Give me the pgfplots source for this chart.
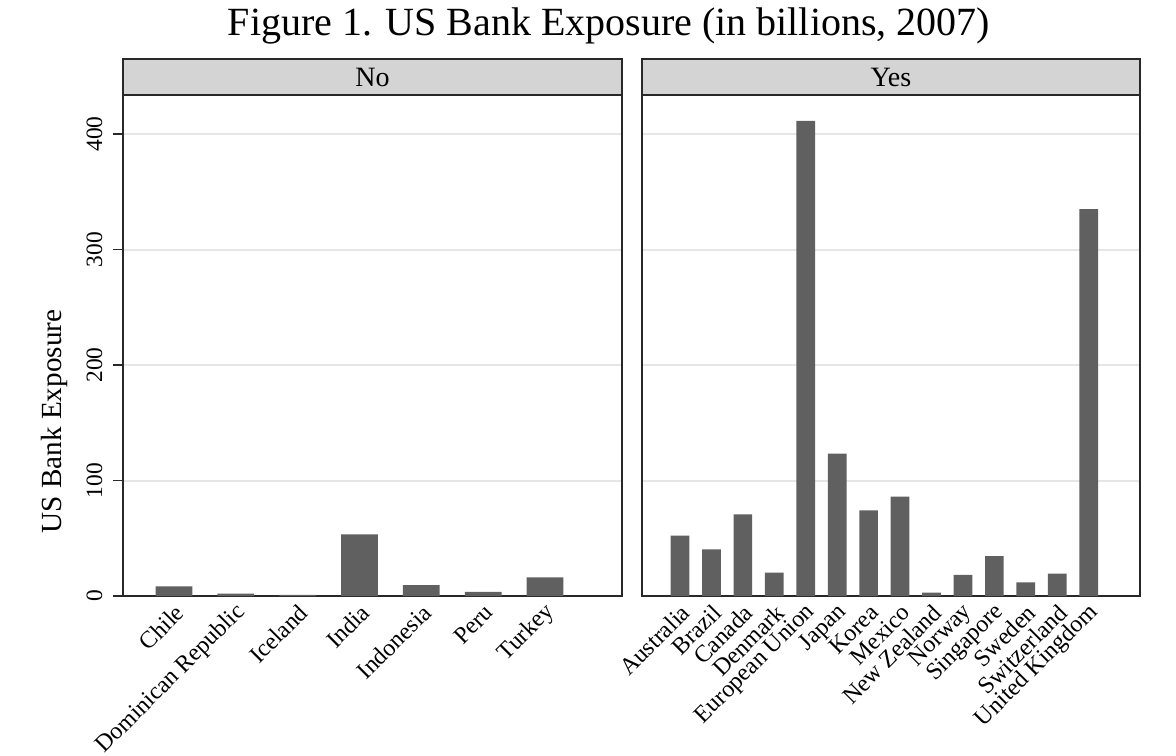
\documentclass[border=0pt]{standalone}
\usepackage{fontspec}
\setmainfont{Liberation Serif}
\usepackage{pgfplots}
\pgfplotsset{compat=1.18}
\definecolor{barc}{RGB}{96,96,96}
\definecolor{gridc}{RGB}{230,230,230}
\definecolor{hdrc}{RGB}{212,212,212}
\definecolor{framec}{RGB}{40,40,40}
\pgfplotsset{panel/.style={
  scale only axis, width=249.2pt, height=250.35pt,
  ymin=0, ymax=433.5, ytick={0,100,200,300,400},
  ymajorgrids, grid style={gridc, line width=1pt},
  axis line style={framec, line width=0.9pt},
  xtick style={draw=none},
  ytick style={framec, line width=0.8pt},
  tick align=outside, major tick length=5pt,
  xticklabel style={font=\fontsize{12}{14}\selectfont, rotate=45, anchor=east, inner sep=1pt, xshift=2.2pt, yshift=-3pt},
  yticklabel style={font=\fontsize{11.7}{13}\selectfont, rotate=90, anchor=south},
  yticklabel shift=2pt,
  /pgf/number format/assume math mode=true,
  clip=false,
}}
\begin{document}
\begin{tikzpicture}
\useasboundingbox (0,0) rectangle (588pt,-377.5pt);
\node[font=\fontsize{20}{24}\selectfont, anchor=base] at (304.5pt,-17.5pt) {Figure 1. US Bank Exposure (in billions, 2007)};
\begin{axis}[panel, at={(61.65pt,-298pt)}, anchor=south west,
  xmin=0.18, xmax=8.24, xtick={1,...,7},
  xticklabels={Chile,Dominican Republic,Iceland,India,Indonesia,Peru,Turkey},
  ytick pos=left,
  ylabel={US Bank Exposure},
  ylabel style={font=\fontsize{14.6}{16}\selectfont, at={(axis description cs:-0.139,0.3485)}, anchor=center},
  ]
\addplot[ybar, bar width=18.35pt, fill=barc, draw=none] coordinates {
(1,8.4) (2,2.0) (3,0.9) (4,53.4) (5,9.5) (6,3.5) (7,16.2)};
\draw[framec, line width=0.9pt, fill=hdrc] (rel axis cs:0,1) rectangle ([yshift=18.15pt]rel axis cs:1,1);
\node[font=\fontsize{14}{16}\selectfont] at ([yshift=9.07pt]rel axis cs:0.5,1) {No};
\end{axis}
\begin{axis}[panel, at={(320.85pt,-298pt)}, anchor=south west,
  xmin=-0.217, xmax=15.636, xtick={1,...,14},
  xticklabels={Australia,Brazil,Canada,Denmark,European Union,Japan,Korea,Mexico,New Zealand,Norway,Singapore,Sweden,Switzerland,United Kingdom},
  yticklabels={}, ytick style={draw=none},
  ]
\addplot[ybar, bar width=9.35pt, fill=barc, draw=none] coordinates {
(1,52.2) (2,40.4) (3,70.7) (4,20.3) (5,411.3) (6,123.2) (7,74.2) (8,86.0) (9,2.9) (10,18.2) (11,34.6) (12,11.8) (13,19.3) (14,335)};
\draw[framec, line width=0.9pt, fill=hdrc] (rel axis cs:0,1) rectangle ([yshift=18.15pt]rel axis cs:1,1);
\node[font=\fontsize{14}{16}\selectfont] at ([yshift=9.07pt]rel axis cs:0.5,1) {Yes};
\end{axis}
\end{tikzpicture}
\end{document}
